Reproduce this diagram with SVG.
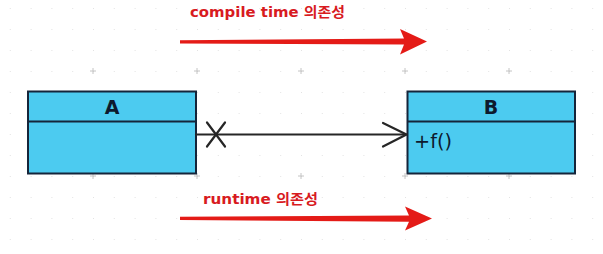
<svg xmlns="http://www.w3.org/2000/svg" width="603" height="254" viewBox="0 0 603 254">
  <style>
    .cls-box { fill: #4ccbf0; stroke: #15253a; stroke-width: 2; }
    .cls-sep { stroke: #15253a; stroke-width: 2; }
    .cls-name { font-family: "DejaVu Sans", "Liberation Sans", sans-serif; font-weight: bold; font-size: 19px; fill: #0d1a2e; text-anchor: middle; }
    .cls-member { font-family: "DejaVu Sans", "Liberation Sans", sans-serif; font-size: 19px; fill: #0d1a2e; }
    .note { font-family: "DejaVu Sans", "Liberation Sans", "Noto Sans CJK KR", sans-serif; font-weight: bold; font-size: 14px; fill: #d81b1f; }
    .big-arrow { fill: #e41b17; }
    .dep { stroke: #262626; stroke-width: 2.2; fill: none; stroke-linecap: round; stroke-linejoin: round; }
    .plus { stroke: #c4c4c4; stroke-width: 1; }
  </style>
  <defs>
    <pattern id="dots" x="9.8" y="8" width="20.8" height="21" patternUnits="userSpaceOnUse">
      <rect x="-0.6" y="-0.6" width="1.4" height="1.4" fill="#d4d4d4"/>
    </pattern>
  </defs>

  <!-- canvas background with dot grid -->
  <rect width="603" height="254" fill="#ffffff"/>
  <rect width="603" height="254" fill="url(#dots)"/>
  <g id="grid-marks" class="plus">
    <path d="M90,71h6M93,68v6 M194,71h6M197,68v6 M298,71h6M301,68v6 M402,71h6M405,68v6 M506,71h6M509,68v6"/>
    <path d="M90,176h6M93,173v6 M194,176h6M197,173v6 M298,176h6M301,173v6 M402,176h6M405,173v6 M506,176h6M509,173v6"/>
  </g>

  <!-- compile time dependency annotation -->
  <g id="compile-time">
    <text class="note" x="190" y="17" textLength="155" lengthAdjust="spacingAndGlyphs">compile time 의존성</text>
    <path class="big-arrow" d="M180,40.2 L404,38.6 L400,29 L427,41.6 L400,54.5 L404,44.6 L180,43.4 Z"/>
  </g>

  <!-- class A -->
  <g id="class-a">
    <rect class="cls-box" x="28" y="91.5" width="168" height="82"/>
    <line class="cls-sep" x1="28" y1="121.5" x2="196" y2="121.5"/>
    <text class="cls-name" x="112" y="114">A</text>
  </g>

  <!-- class B -->
  <g id="class-b">
    <rect class="cls-box" x="407.5" y="91.5" width="167.5" height="82"/>
    <line class="cls-sep" x1="407.5" y1="121.5" x2="575" y2="121.5"/>
    <text class="cls-name" x="491" y="114">B</text>
    <text class="cls-member" x="414" y="147.5" textLength="38" lengthAdjust="spacingAndGlyphs">+f()</text>
  </g>

  <!-- dependency connector: non-navigable from A, navigable to B -->
  <g id="connectors">
    <line class="dep" x1="196" y1="134.5" x2="406" y2="134.5"/>
    <path class="dep" d="M207,122.5 L225,146.5 M225,122.5 L207,146.5"/>
    <path class="dep" d="M383,123 L406.5,134.5 L383,146.5"/>
  </g>

  <!-- runtime dependency annotation -->
  <g id="runtime">
    <text class="note" x="203" y="204" textLength="115" lengthAdjust="spacingAndGlyphs">runtime 의존성</text>
    <path class="big-arrow" d="M180,216.8 L409,215.4 L405,206.5 L432,218.6 L405,230.5 L409,221.8 L180,220 Z"/>
  </g>
</svg>
